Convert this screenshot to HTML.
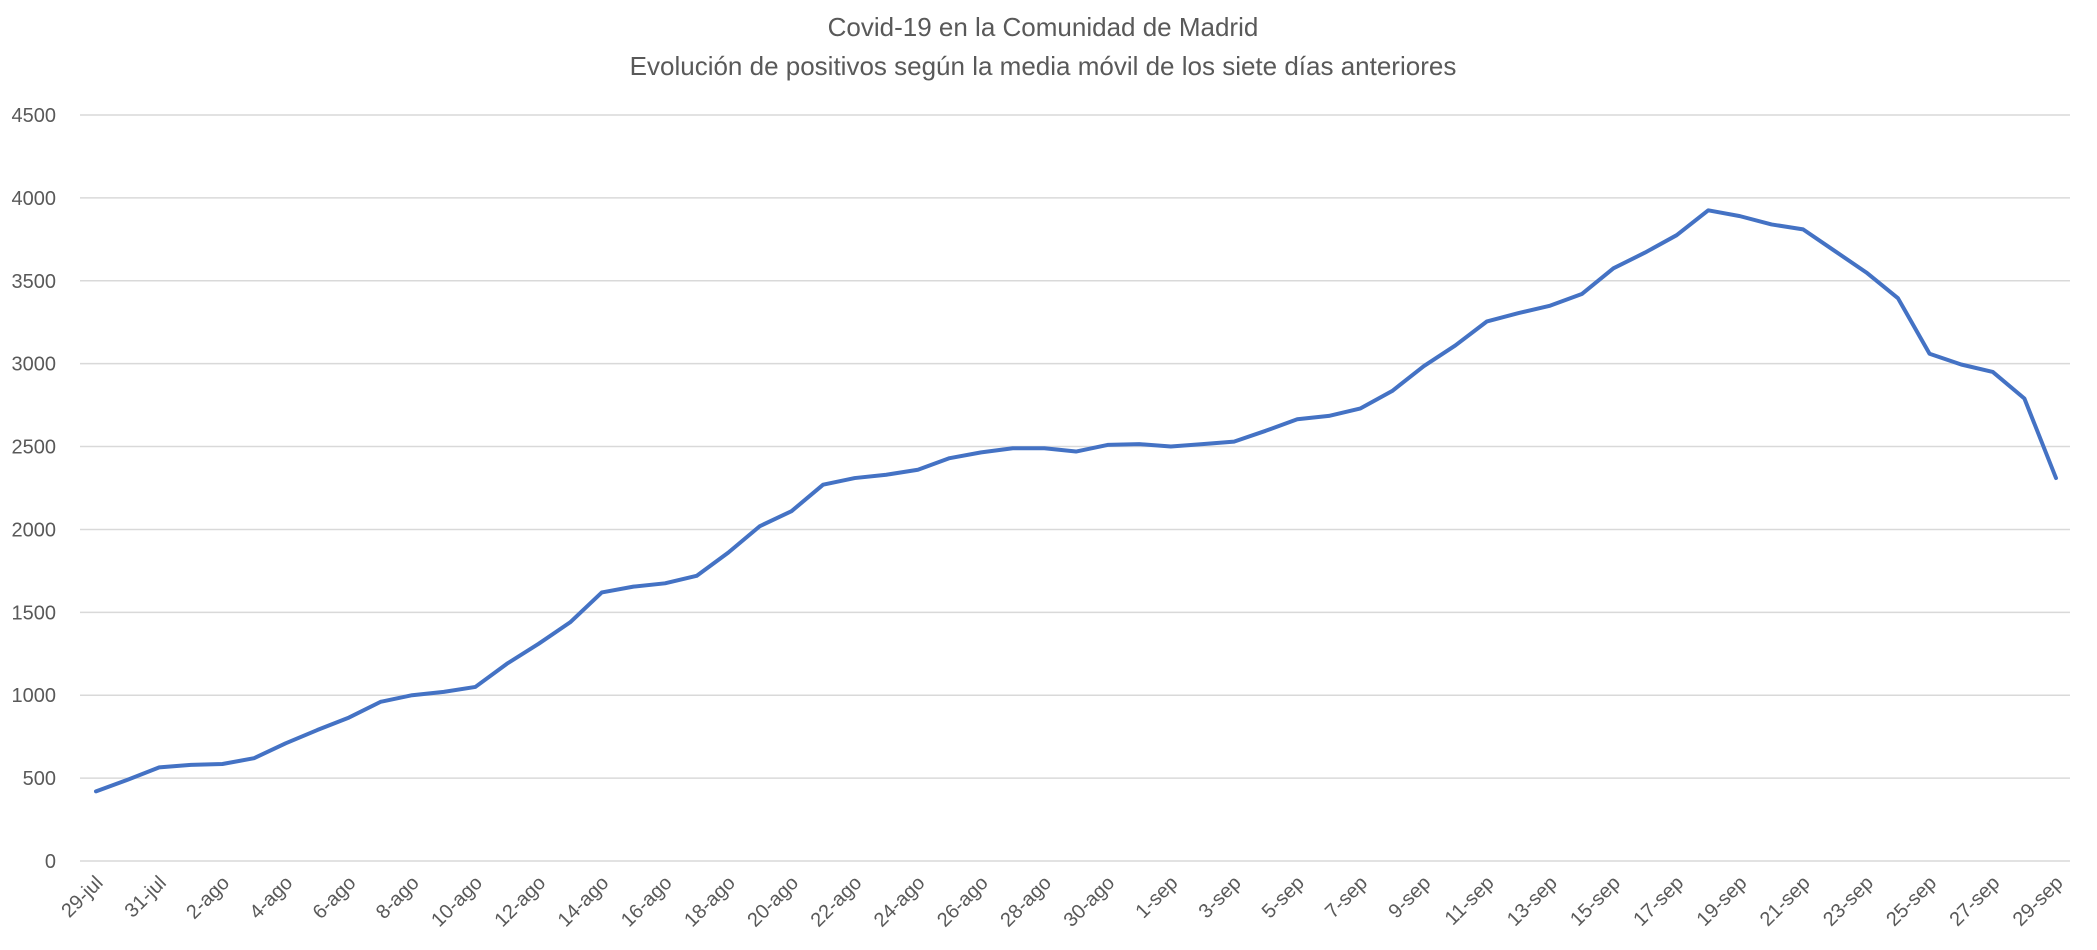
<!DOCTYPE html>
<html><head><meta charset="utf-8"><style>
html,body{margin:0;padding:0;background:#fff;}
svg{display:block;font-family:"Liberation Sans",sans-serif;}
</style></head><body>
<svg id="chart" width="2097" height="950" xmlns="http://www.w3.org/2000/svg">
<text x="1043" y="36" text-anchor="middle" font-size="26" fill="#595959">Covid-19 en la Comunidad de Madrid</text>
<text x="1043" y="75" text-anchor="middle" font-size="26" fill="#595959">Evolución de positivos según la media móvil de los siete días anteriores</text>
<g id="grid"></g><g id="ylabels"></g><g id="xlabels"></g><g id="series"></g>
</svg>
<script>
const yTicks=[0,500,1000,1500,2000,2500,3000,3500,4000,4500];
const dates=["29-jul","30-jul","31-jul","1-ago","2-ago","3-ago","4-ago","5-ago","6-ago","7-ago","8-ago","9-ago","10-ago","11-ago","12-ago","13-ago","14-ago","15-ago","16-ago","17-ago","18-ago","19-ago","20-ago","21-ago","22-ago","23-ago","24-ago","25-ago","26-ago","27-ago","28-ago","29-ago","30-ago","31-ago","1-sep","2-sep","3-sep","4-sep","5-sep","6-sep","7-sep","8-sep","9-sep","10-sep","11-sep","12-sep","13-sep","14-sep","15-sep","16-sep","17-sep","18-sep","19-sep","20-sep","21-sep","22-sep","23-sep","24-sep","25-sep","26-sep","27-sep","28-sep","29-sep"];
const values=[420,490,565,580,585,620,710,790,865,960,1000,1020,1050,1190,1310,1440,1620,1655,1675,1720,1860,2020,2110,2270,2310,2330,2360,2430,2465,2490,2490,2470,2510,2515,2500,2515,2530,2595,2665,2685,2730,2835,2985,3110,3255,3305,3350,3420,3575,3670,3775,3925,3890,3840,3810,3680,3550,3395,3060,2995,2950,2790,2310];
const NS="http://www.w3.org/2000/svg";
const x0=96,x1=2056,yBase=861,yTop=115,yMax=4500;
function xs(i){return x0+(x1-x0)*i/(dates.length-1);}
function ys(v){return yBase-(yBase-yTop)*v/yMax;}
const grid=document.getElementById('grid'),yl=document.getElementById('ylabels'),xl=document.getElementById('xlabels'),ser=document.getElementById('series');
yTicks.forEach(t=>{
 const l=document.createElementNS(NS,'line');
 l.setAttribute('x1',80);l.setAttribute('x2',2070);l.setAttribute('y1',ys(t));l.setAttribute('y2',ys(t));
 l.setAttribute('stroke','#d9d9d9');l.setAttribute('stroke-width','1.5');
 
 
 grid.appendChild(l);
 const tx=document.createElementNS(NS,'text');
 tx.setAttribute('x',56);tx.setAttribute('y',ys(t)+7);tx.setAttribute('text-anchor','end');
 tx.setAttribute('font-size','20');tx.setAttribute('fill','#595959');tx.textContent=t;
 
 
 yl.appendChild(tx);
});
dates.forEach((d,i)=>{
 if(i%2) return;
 const tx=document.createElementNS(NS,'text');
 const x=xs(i)+8,y=884;
 tx.setAttribute('x',x);tx.setAttribute('y',y);tx.setAttribute('text-anchor','end');
 tx.setAttribute('transform','rotate(-45 '+x+' '+y+')');
 tx.setAttribute('font-size','20');tx.setAttribute('fill','#595959');tx.textContent=d;
 
 
 xl.appendChild(tx);
});
const p=document.createElementNS(NS,'polyline');
p.setAttribute('points',values.map((v,i)=>xs(i)+','+ys(v)).join(' '));
p.setAttribute('fill','none');p.setAttribute('stroke','#4472c4');p.setAttribute('stroke-width','4');
p.setAttribute('stroke-linejoin','round');p.setAttribute('stroke-linecap','round');


ser.appendChild(p);
</script>
</body></html>
